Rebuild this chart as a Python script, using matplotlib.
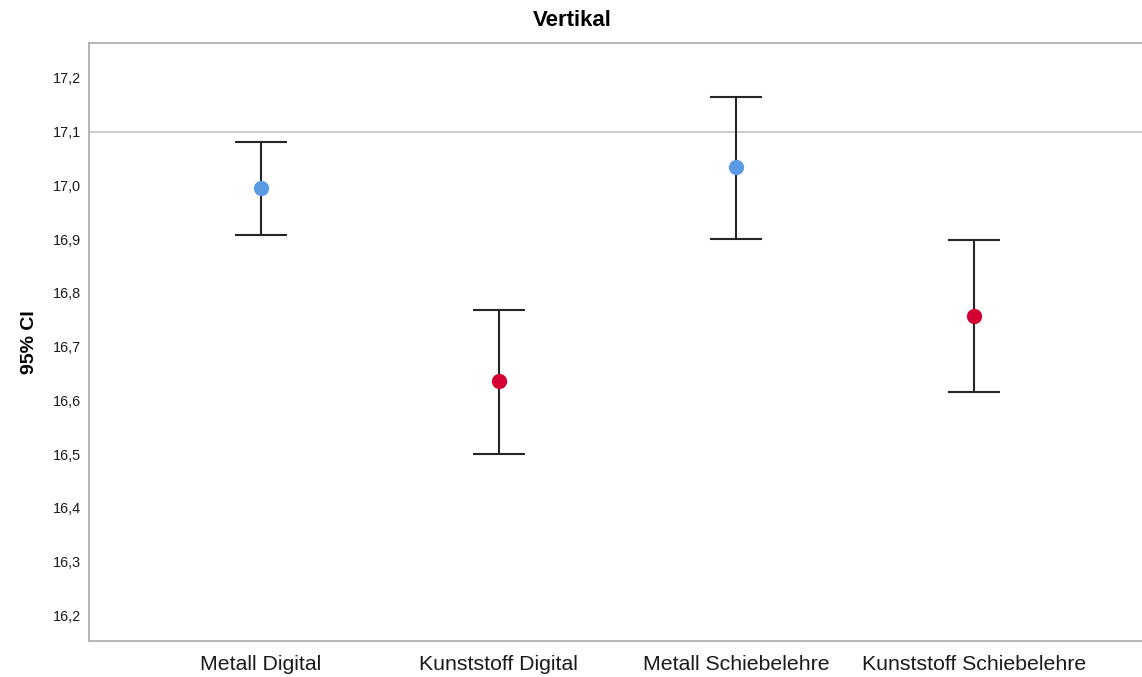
import numpy as np
import matplotlib.pyplot as plt

plt.rcParams['font.family'] = ['Liberation Sans', 'DejaVu Sans']

# 95% CI per group
groups = ['Metall Digital', 'Kunststoff Digital', 'Metall Schiebelehre', 'Kunststoff Schiebelehre']
means = [16.995, 16.636, 17.034, 16.757]
lower = [16.908, 16.500, 16.900, 16.615]
upper = [17.081, 16.768, 17.165, 16.898]
colors = ['#5b9be6', '#d50032', '#5b9be6', '#d50032']
ref_value = 17.1
yticks = [16.2, 16.3, 16.4, 16.5, 16.6, 16.7, 16.8, 16.9, 17.0, 17.1, 17.2]

fig = plt.figure(figsize=(11.42, 6.77), dpi=100)
ax = fig.add_axes([0.0779, 0.0532, 0.9256, 0.8833])

x = np.arange(len(groups))
means = np.array(means)
yerr = np.vstack([means - np.array(lower), np.array(upper) - means])

ax.axhline(ref_value, color='#c4c4c4', lw=1.2, zorder=1)

for i in range(len(groups)):
    ax.errorbar(x[i], means[i], yerr=yerr[:, i:i + 1], fmt='none',
                ecolor='#262626', elinewidth=1.5, capsize=19, capthick=1.5, zorder=2)
    ax.plot(x[i], means[i], 'o', color=colors[i], markersize=11,
            markeredgewidth=0, zorder=3)

ax.set_xlim(-0.7236, 3.7236)
ax.set_ylim(16.152, 17.265)
ax.set_xticks(x)
ax.set_xticklabels(groups, fontsize=15.3)
ax.set_yticks(yticks)
ax.set_yticklabels([f'{v:.1f}'.replace('.', ',') for v in yticks], fontsize=10.4)
ax.tick_params(axis='both', length=0, colors='#1a1a1a')
ax.tick_params(axis='y', pad=6)
ax.tick_params(axis='x', pad=10)

for side in ['left', 'bottom', 'top']:
    ax.spines[side].set_color('#b0b0b0')
    ax.spines[side].set_linewidth(1.3)
ax.spines['right'].set_visible(False)

ax.set_ylabel('95% CI', fontsize=14, fontweight='bold', labelpad=10)
fig.text(0.501, 1 - 21 / 677, 'Vertikal', fontsize=16, fontweight='bold',
         ha='center', va='center')

fig.savefig('out.png', dpi=100)
